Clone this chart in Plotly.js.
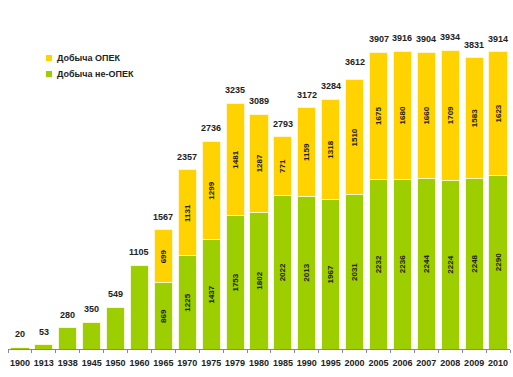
<!DOCTYPE html>
<html>
<head>
<meta charset="utf-8">
<script src="https://cdn.plot.ly/plotly-3.0.1.min.js"></script>
<style>html,body{margin:0;padding:0;background:#fff;}#chart{width:513px;height:377px;}</style>
</head>
<body>
<div id="chart"></div>
<script>
const years = ['1900','1913','1938','1945','1950','1960','1965','1970','1975','1979','1980','1985','1990','1995','2000','2005','2006','2007','2008','2009','2010'];
const nonOpec = [20,53,280,350,549,1105,869,1225,1437,1753,1802,2022,2013,1967,2031,2232,2236,2244,2224,2248,2290];
const opec = [0,0,0,0,0,0,699,1131,1299,1481,1287,771,1159,1318,1510,1675,1680,1660,1709,1583,1623];
const totals = [20,53,280,350,549,1105,1567,2357,2736,3235,3089,2793,3172,3284,3612,3907,3916,3904,3934,3831,3914];
const nonOpecLabels = ['','','','','','','869','1225','1437','1753','1802','2022','2013','1967','2031','2232','2236','2244','2224','2248','2290'];
const opecLabels = ['','','','','','','699','1131','1299','1481','1287','771','1159','1318','1510','1675','1680','1660','1709','1583','1623'];
const legendNames = ['Добыча ОПЕК', 'Добыча не-ОПЕК'];

const GREEN = '#9dce00';
const YELLOW = '#ffd200';
const FONT = 'Liberation Sans, Arial, sans-serif';
const W = 513, H = 377;

const data = [
  {type:'bar', x:years, y:nonOpec, name:'Добыча не-ОПЕК', showlegend:false,
   marker:{color:GREEN, line:{color:'#f4f8d8', width:1}},
   text:nonOpecLabels, textposition:'inside', textangle:-90, insidetextanchor:'middle',
   constraintext:'none',
   textfont:{family:FONT, size:8, color:'#222', weight:'bold'}, hoverinfo:'skip'},
  {type:'bar', x:years, y:opec, name:'Добыча ОПЕК', showlegend:false,
   marker:{color:YELLOW, line:{color:'#fff6c8', width:1}},
   text:opecLabels, textposition:'inside', textangle:-90, insidetextanchor:'middle',
   constraintext:'none',
   textfont:{family:FONT, size:8, color:'#222', weight:'bold'}, hoverinfo:'skip'}
];

const annotations = years.map((yr, i) => ({
  x: i, y: totals[i], xref:'x', yref:'y', text: String(totals[i]),
  showarrow:false, yanchor:'bottom', yshift:6,
  font:{family:FONT, size:9, color:'#222', weight:'bold'}
}));

// manual legend (paper coords)
const legendColors = [YELLOW, GREEN];
const legendY = [58, 74];
const shapes = [];
legendNames.forEach((nm, k) => {
  shapes.push({type:'rect', xref:'paper', yref:'paper',
    x0:(46-8)/502, x1:(52-8)/502,
    y0:(H-28-(legendY[k]+3))/329, y1:(H-28-(legendY[k]-3))/329,
    fillcolor:legendColors[k], line:{width:0}});
  annotations.push({xref:'paper', yref:'paper', x:(55-8)/502, y:(H-28-legendY[k])/329,
    xanchor:'left', yanchor:'middle', showarrow:false, text:nm,
    font:{family:FONT, size:9, color:'#222', weight:'bold'}});
});

const layout = {
  width:W, height:H,
  margin:{l:8, r:3, t:20, b:28},
  paper_bgcolor:'#fff', plot_bgcolor:'#fff',
  barmode:'stack', bargap:0.24,
  showlegend:false,
  xaxis:{type:'category', categoryorder:'array', categoryarray:years, range:[-0.5, 20.5],
         showline:true, linecolor:'#888', linewidth:1,
         ticks:'outside', ticklen:3, tickcolor:'#888', tickson:'boundaries',
         ticklabelstandoff:5,
         showgrid:false, zeroline:false,
         tickfont:{family:FONT, size:9, color:'#222', weight:'bold'}, tickangle:0},
  yaxis:{range:[0,4330], visible:false, showgrid:false, zeroline:false},
  annotations: annotations,
  shapes: shapes
};

Plotly.newPlot('chart', data, layout, {staticPlot:true, displayModeBar:false});
</script>
</body>
</html>
